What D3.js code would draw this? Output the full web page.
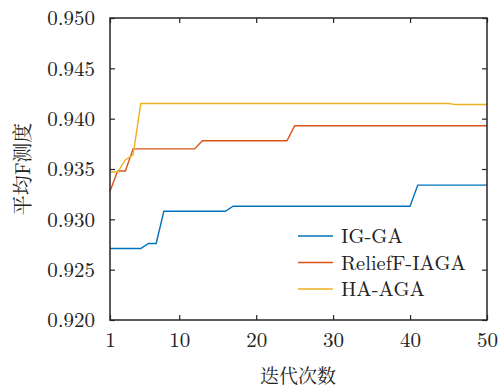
<!DOCTYPE html>
<html>
<head>
<meta charset="utf-8">
<script src="https://cdn.jsdelivr.net/npm/d3@7"></script>
<style>
  body { margin: 0; background: #fff; }
</style>
</head>
<body>
<div id="chart"></div>
<script>
// iterations 1..50
var iterations = d3.range(1, 51);

// step values (one per iteration)
var igGA = [
  0.9271, 0.9271, 0.9271, 0.9271, 0.9271, 0.9276, 0.9276, 0.9308, 0.9308, 0.9308,
  0.9308, 0.9308, 0.9308, 0.9308, 0.9308, 0.9308, 0.9313, 0.9313, 0.9313, 0.9313,
  0.9313, 0.9313, 0.9313, 0.9313, 0.9313, 0.9313, 0.9313, 0.9313, 0.9313, 0.9313,
  0.9313, 0.9313, 0.9313, 0.9313, 0.9313, 0.9313, 0.9313, 0.9313, 0.9313, 0.9313,
  0.9334, 0.9334, 0.9334, 0.9334, 0.9334, 0.9334, 0.9334, 0.9334, 0.9334, 0.9334
];
var reliefIAGA = [
  0.9328, 0.9348, 0.9348, 0.9370, 0.9370, 0.9370, 0.9370, 0.9370, 0.9370, 0.9370,
  0.9370, 0.9370, 0.9378, 0.9378, 0.9378, 0.9378, 0.9378, 0.9378, 0.9378, 0.9378,
  0.9378, 0.9378, 0.9378, 0.9378, 0.9393, 0.9393, 0.9393, 0.9393, 0.9393, 0.9393,
  0.9393, 0.9393, 0.9393, 0.9393, 0.9393, 0.9393, 0.9393, 0.9393, 0.9393, 0.9393,
  0.9393, 0.9393, 0.9393, 0.9393, 0.9393, 0.9393, 0.9393, 0.9393, 0.9393, 0.9393
];
var haAGA = [
  0.9347, 0.9347, 0.9359, 0.9364, 0.9415, 0.9415, 0.9415, 0.9415, 0.9415, 0.9415,
  0.9415, 0.9415, 0.9415, 0.9415, 0.9415, 0.9415, 0.9415, 0.9415, 0.9415, 0.9415,
  0.9415, 0.9415, 0.9415, 0.9415, 0.9415, 0.9415, 0.9415, 0.9415, 0.9415, 0.9415,
  0.9415, 0.9415, 0.9415, 0.9415, 0.9415, 0.9415, 0.9415, 0.9415, 0.9415, 0.9415,
  0.9415, 0.9415, 0.9415, 0.9415, 0.9415, 0.9414, 0.9414, 0.9414, 0.9414, 0.9414
];

var seriesNames = ["IG-GA", "ReliefF-IAGA", "HA-AGA"];
var seriesColors = ["#0072BD", "#D95319", "#EDB120"];
var xTicks = [1, 10, 20, 30, 40, 50];
var yTicks = [0.920, 0.925, 0.930, 0.935, 0.940, 0.945, 0.950];

var latin = "'Latin Modern Roman', 'Liberation Serif', serif";
var cjk = "'Noto Serif CJK SC', 'Noto Sans CJK SC', serif";

var margin = {top: 18, right: 13, bottom: 70, left: 110},
    width = 500 - margin.left - margin.right,
    height = 390 - margin.top - margin.bottom;

var svg = d3.select("#chart").append("svg")
    .attr("width", 500)
    .attr("height", 390)
  .append("g")
    .attr("transform", "translate(" + margin.left + "," + margin.top + ")");

var x = d3.scaleLinear().domain([1, 50]).range([0, width]);
var y = d3.scaleLinear().domain([0.920, 0.950]).range([height, 0]);

// data lines
var all = [igGA, reliefIAGA, haAGA];
var line = d3.line()
    .x(function(d, i) { return x(iterations[i]); })
    .y(function(d) { return y(d); });

all.forEach(function(vals, k) {
  svg.append("path")
      .datum(vals)
      .attr("fill", "none")
      .attr("stroke", seriesColors[k])
      .attr("stroke-width", 1.4)
      .attr("d", line);
});

// axes, ticks pointing inward
svg.append("g")
    .attr("transform", "translate(0," + height + ")")
    .call(d3.axisBottom(x).tickValues(xTicks).tickSizeInner(-5).tickSizeOuter(0).tickPadding(12));
svg.append("g")
    .call(d3.axisLeft(y).tickValues(yTicks).tickFormat(d3.format(".3f")).tickSizeInner(-5).tickSizeOuter(0).tickPadding(15));
svg.append("g")
    .call(d3.axisTop(x).tickValues(xTicks).tickSizeInner(-5).tickSizeOuter(0).tickFormat(""));
svg.append("g")
    .attr("transform", "translate(" + width + ",0)")
    .call(d3.axisRight(y).tickValues(yTicks).tickSizeInner(-5).tickSizeOuter(0).tickFormat(""));

svg.selectAll(".domain").remove();
svg.selectAll(".tick line").attr("stroke", "#262626").attr("stroke-width", 1.2);
svg.selectAll(".tick text")
    .style("font-family", latin)
    .style("font-size", "21px")
    .attr("fill", "#222");

svg.append("rect")
    .attr("width", width)
    .attr("height", height)
    .attr("fill", "none")
    .attr("stroke", "#262626")
    .attr("stroke-width", 1.5);

// axis titles
svg.append("text")
    .attr("x", 188)
    .attr("y", height + 63)
    .attr("text-anchor", "middle")
    .style("font-family", cjk)
    .style("font-size", "19px")
    .attr("fill", "#222")
    .text("迭代次数");

svg.append("text")
    .attr("transform", "translate(-80," + (height / 2) + ") rotate(-90)")
    .attr("text-anchor", "middle")
    .style("font-family", cjk)
    .style("font-size", "20px")
    .attr("fill", "#222")
    .text("平均F测度");

// legend
var legend = svg.selectAll(".legend")
    .data(seriesNames)
    .enter().append("g")
    .attr("class", "legend")
    .attr("transform", function(d, i) { return "translate(188," + (218 + i * 26.5) + ")"; });

legend.append("line")
    .attr("x1", 0).attr("x2", 35)
    .attr("stroke", function(d, i) { return seriesColors[i]; })
    .attr("stroke-width", 1.4);

legend.append("text")
    .attr("x", 43)
    .attr("dy", "0.35em")
    .style("font-family", latin)
    .style("font-size", "20.5px")
    .attr("fill", "#222")
    .text(function(d) { return d; });
</script>
</body>
</html>
